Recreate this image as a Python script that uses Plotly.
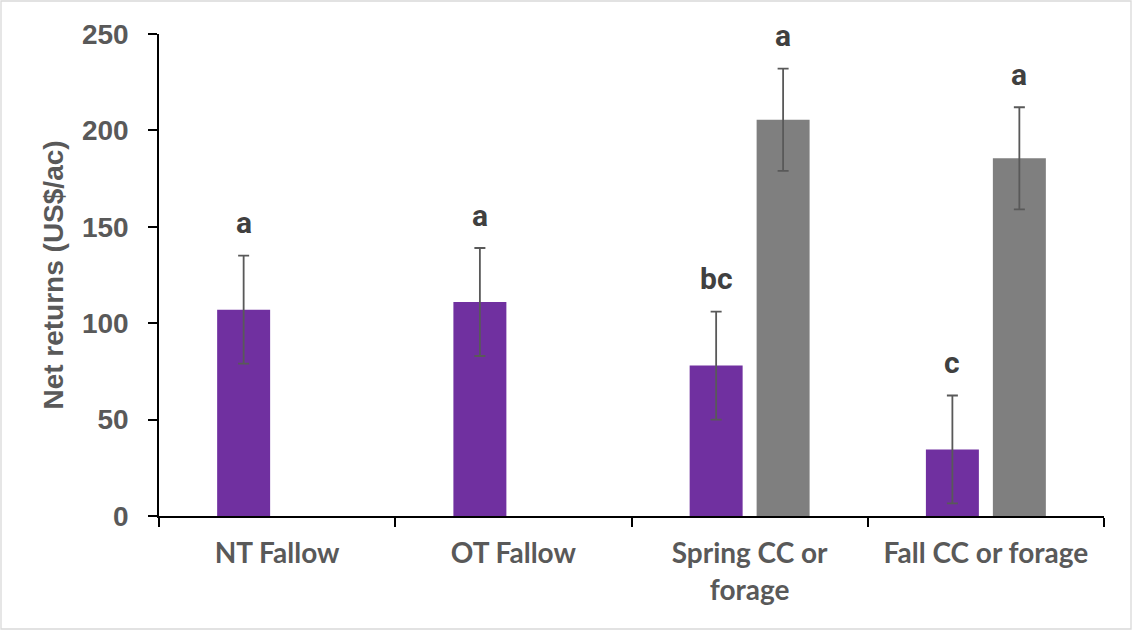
import plotly.graph_objects as go

categories = ["NT Fallow", "OT Fallow", "Spring CC or<br>forage", "Fall CC or forage"]
purple_vals = [107, 111, 78, 34.5]
purple_err = [28, 28, 28, 28]
purple_letters = ["a", "a", "bc", "c"]
gray_vals = [None, None, 205.5, 185.5]
gray_err = [None, None, 26.5, 26.5]
gray_letters = [None, None, "a", "a"]
y_ticks = [0, 50, 100, 150, 200, 250]

PURPLE = "#7030A0"
GRAY = "#7F7F7F"
ERR = "#595959"
TXT = "#595959"

fig = go.Figure()
fig.add_trace(go.Bar(
    x=categories, y=purple_vals, name="purple",
    marker=dict(color=PURPLE, line=dict(width=0)),
    error_y=dict(type="data", array=purple_err, color=ERR, thickness=1.8, width=5.5),
))
fig.add_trace(go.Bar(
    x=categories, y=gray_vals, name="gray",
    marker=dict(color=GRAY, line=dict(width=0)),
    error_y=dict(type="data", array=[e if e is not None else 0 for e in gray_err],
                 color=ERR, thickness=1.8, width=5.5),
))

# significance letters
for i, (v, e, t) in enumerate(zip(purple_vals, purple_err, purple_letters)):
    fig.add_annotation(x=categories[i], y=v + e, text=t, showarrow=False,
                       xshift=-33.5, yshift=33, yanchor="middle",
                       font=dict(family="Roboto", size=30, color="#404040", weight="bold"))
for i, (v, e, t) in enumerate(zip(gray_vals, gray_err, gray_letters)):
    if v is None:
        continue
    fig.add_annotation(x=categories[i], y=v + e, text=t, showarrow=False,
                       xshift=33.5, yshift=33, yanchor="middle",
                       font=dict(family="Roboto", size=30, color="#404040", weight="bold"))

# outer chart border
L, R, T, B = 159, 29, 34, 115
W, H = 1133, 631
pw, ph = W - L - R, H - T - B
fig.add_shape(type="rect", xref="paper", yref="paper",
              x0=(1 - L) / pw, x1=(W - 2 - L) / pw,
              y0=(H - B - (H - 2)) / ph, y1=(H - B - 1) / ph,
              line=dict(color="#D9D9D9", width=1.3), fillcolor="rgba(0,0,0,0)", layer="below")

fig.update_layout(
    width=W, height=H,
    margin=dict(l=L, r=R, t=T, b=B, autoexpand=False),
    paper_bgcolor="white", plot_bgcolor="white",
    barmode="group", bargap=0.433, bargroupgap=0.209,
    showlegend=False,
)
fig.update_xaxes(
    showline=True, linecolor="black", linewidth=1.5,
    ticks="outside", tickson="boundaries", ticklen=9, tickcolor="black", tickwidth=1.5,
    tickfont=dict(family="Lato", size=28, color=TXT, weight="bold"),
    ticklabelstandoff=12,
    showgrid=False,
)
fig.update_yaxes(
    range=[0, 250], tickvals=y_ticks,
    showline=True, linecolor="black", linewidth=1.5,
    ticks="outside", ticklen=9, tickcolor="black", tickwidth=1.5,
    tickfont=dict(family="Liberation Sans", size=28, color=TXT, weight="bold"),
    ticklabelstandoff=14,
    showgrid=False, zeroline=False,
    title=dict(text="Net returns (US$/ac)", standoff=10,
               font=dict(family="Liberation Sans", size=28, color=TXT, weight="bold")),
)

fig.write_html("out.html", config={"displayModeBar": False})
with open("out.html", "r", encoding="utf-8") as f:
    html = f.read()
html = html.replace("<head>", "<head><style>html,body{margin:0;padding:0;overflow:hidden;}</style>", 1)
with open("out.html", "w", encoding="utf-8") as f:
    f.write(html)
